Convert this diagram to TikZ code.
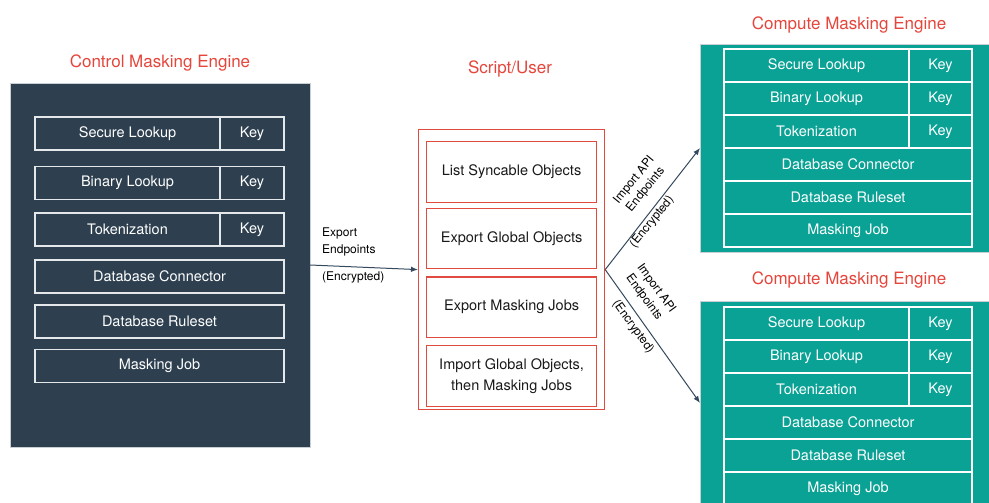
\documentclass[tikz,border=0pt]{standalone}
\usepackage{fontspec}
\setmainfont{TeX Gyre Heros}
\usepackage{xcolor}
\usetikzlibrary{
  arrows.meta,
  positioning,
}

\definecolor{ctlslate}{HTML}{2E4050}
\definecolor{cmpteal}{HTML}{0AA295}
\definecolor{titlered}{HTML}{E5453B}
\definecolor{boxred}{HTML}{E04A3F}
\definecolor{flowgray}{HTML}{34495E}
\definecolor{cellline}{HTML}{E4E8EB}
\definecolor{panelline}{HTML}{C9D0D4}

\begin{document}
\begin{tikzpicture}[
  x=1pt, y=-1pt,
  every node/.style={font=\fontsize{14.5}{17}\selectfont},
  title/.style={font=\fontsize{17}{20}\selectfont, text=titlered},
  lbl/.style={font=\fontsize{12}{15}\selectfont, text=black, inner sep=1pt},
  ctlpanel/.style={rectangle, fill=ctlslate, draw=panelline, line width=0.6pt, outer sep=0pt, anchor=north west},
  cmppanel/.style={rectangle, fill=cmpteal, draw=panelline, line width=0.8pt, outer sep=0pt, anchor=north west},
  cell/.style={rectangle, draw=cellline, line width=1.3pt, text=white,
    minimum height=33, inner sep=0pt, outer sep=0pt},
  gridcell/.style={rectangle, draw=white, line width=1.2pt, text=white,
    minimum height=33, inner sep=0pt, outer sep=0pt},
  taskbox/.style={rectangle, draw=boxred, line width=1.2pt, text=black!90,
    minimum width=170, minimum height=60.5, align=center, inner sep=0pt},
  flow/.style={draw=flowgray, line width=1pt, -{Latex[length=7pt, width=5.5pt]}},
]
  \useasboundingbox (0,0) rectangle (989,503);

  % Control engine (left)
  \node[ctlpanel, minimum width=300, minimum height=364] (control) at (10,83) {};
  \node[title] (ctltitle) at (160,63) {Control Masking Engine};

  \node[cell, minimum width=185, anchor=north west] (csl) at (35,117) {Secure Lookup};
  \node[cell, minimum width=64, right=0pt of csl] (cslk) {Key};
  \node[cell, minimum width=185, below=16.5pt of csl.south west, anchor=north west] (cbl) {Binary Lookup};
  \node[cell, minimum width=64, right=0pt of cbl] (cblk) {Key};
  \node[cell, minimum width=185, below=13.5pt of cbl.south west, anchor=north west] (ctok) {Tokenization};
  \node[cell, minimum width=64, right=0pt of ctok] (ctokk) {Key};
  \node[cell, minimum width=249, below=14pt of ctok.south west, anchor=north west] (cdbc) {Database Connector};
  \node[cell, minimum width=249, below=12pt of cdbc.south west, anchor=north west] (cdbr) {Database Ruleset};
  \node[cell, minimum width=249, below=11.5pt of cdbr.south west, anchor=north west] (cjob) {Masking Job};

  % Script / user (middle)
  \node[rectangle, draw=boxred, line width=1.2pt, minimum width=186, minimum height=280, anchor=north west] (script) at (418,129) {};
  \node[title] (scripttitle) at (510,69) {Script/User};

  \node[taskbox, below=12pt of script.north] (list) {List Syncable Objects};
  \node[taskbox, below=5pt of list] (expglob) {Export Global Objects};
  \node[taskbox, below=7pt of expglob] (expjob) {Export Masking Jobs\vphantom{g}};
  \node[taskbox, below=7pt of expjob, font=\fontsize{14.5}{20.5}\selectfont] (impall) {Import Global Objects,\\then Masking Jobs};

  % Compute engine (top right)
  \node[cmppanel, minimum width=289, minimum height=208] (cmptop) at (700,44) {};
  \node[title] (toptitle) at (849,25) {Compute Masking Engine};

  \node[gridcell, minimum width=185, anchor=north west] (tsl) at (724,49) {Secure Lookup};
  \node[gridcell, minimum width=63, right=0pt of tsl] (tslk) {Key};
  \node[gridcell, minimum width=185, below=0pt of tsl.south west, anchor=north west] (tbl) {Binary Lookup};
  \node[gridcell, minimum width=63, right=0pt of tbl] (tblk) {Key};
  \node[gridcell, minimum width=185, below=0pt of tbl.south west, anchor=north west] (ttok) {Tokenization};
  \node[gridcell, minimum width=63, right=0pt of ttok] (ttokk) {Key};
  \node[gridcell, minimum width=248, below=0pt of ttok.south west, anchor=north west] (tdbc) {Database Connector};
  \node[gridcell, minimum width=248, below=0pt of tdbc.south west, anchor=north west] (tdbr) {Database Ruleset};
  \node[gridcell, minimum width=248, below=0pt of tdbr.south west, anchor=north west] (tjob) {Masking Job};

  % Compute engine (bottom right)
  \node[cmppanel, minimum width=289, minimum height=204] (cmpbot) at (700,301) {};
  \node[title] (bottitle) at (849,280) {Compute Masking Engine};

  \node[gridcell, minimum width=185, anchor=north west] (bsl) at (724,307) {Secure Lookup};
  \node[gridcell, minimum width=63, right=0pt of bsl] (bslk) {Key};
  \node[gridcell, minimum width=185, below=0pt of bsl.south west, anchor=north west] (bbl) {Binary Lookup};
  \node[gridcell, minimum width=63, right=0pt of bbl] (bblk) {Key};
  \node[gridcell, minimum width=185, below=0pt of bbl.south west, anchor=north west] (btok) {Tokenization};
  \node[gridcell, minimum width=63, right=0pt of btok] (btokk) {Key};
  \node[gridcell, minimum width=248, below=0pt of btok.south west, anchor=north west] (bdbc) {Database Connector};
  \node[gridcell, minimum width=248, below=0pt of bdbc.south west, anchor=north west] (bdbr) {Database Ruleset};
  \node[gridcell, minimum width=248, below=0pt of bdbr.south west, anchor=north west] (bjob) {Masking Job};

  % Connectors
  \draw[flow] (control.east) -- (script.west);
  \draw[flow] (script.east) -- (cmptop.west);
  \draw[flow] (script.east) -- (cmpbot.west);

  % Connector labels
  \node[lbl, anchor=west, align=left, font=\fontsize{12}{17}\selectfont] (explbl) at (321,242) {Export\\Endpoints};
  \node[lbl, anchor=west] (expenc) at (321,277) {(Encrypted)};
  \node[lbl, rotate=51, align=center] (toplbl) at (640,185) {Import API\\Endpoints};
  \node[lbl, rotate=51] (topenc) at (652,222) {(Encrypted)};
  \node[lbl, rotate=-54, align=center] (botlbl) at (650,293) {Import API\\Endpoints};
  \node[lbl, rotate=-54] (botenc) at (633,327) {(Encrypted)};

\end{tikzpicture}
\end{document}
